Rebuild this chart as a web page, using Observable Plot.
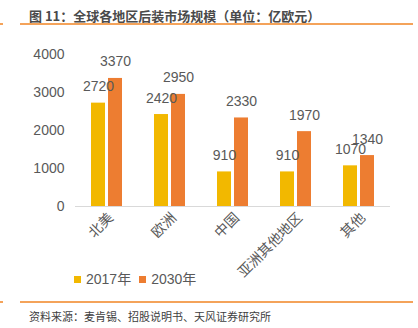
<!DOCTYPE html>
<html>
<head>
<meta charset="utf-8">
<script src="https://cdn.jsdelivr.net/npm/d3@7"></script>
<script src="https://cdn.jsdelivr.net/npm/@observablehq/plot@0.6"></script>
<style>
  html, body { margin: 0; padding: 0; background: #fff; }
  #wrap { position: relative; width: 418px; height: 328px; overflow: hidden; background: #fff;
    font-family: "Liberation Sans", "Noto Sans CJK SC", sans-serif; }
  #title { position: absolute; left: 29px; top: 6px; font-size: 13px; font-weight: bold; color: #4a4a4a;
    font-family: "Noto Sans CJK SC", sans-serif; white-space: nowrap; }
  .rule { position: absolute; left: 20px; width: 393px; height: 2px; background: #F4A35A; }
  .tick { position: absolute; left: 0; width: 3px; height: 2px; background: #F4A35A; }
  #source { position: absolute; left: 29px; top: 308px; font-size: 11px; color: #404040;
    font-family: "Noto Sans CJK SC", sans-serif; white-space: nowrap; }
  #legend { position: absolute; left: 74px; top: 268px; font-size: 14px; color: #595959; white-space: nowrap; }
  #legend span.sw { display: inline-block; width: 7px; height: 7px; margin-right: 5px; vertical-align: 1px; }
  #legend span.it { margin-right: 8px; }
  #chart { position: absolute; left: 0; top: 30px; }
</style>
</head>
<body>
<div id="wrap">
  <div id="title">图 11：全球各地区后装市场规模（单位：亿欧元）</div>
  <div class="rule" style="top:23px"></div>
  <div class="tick" style="top:23px"></div>
  <div id="chart"></div>
  <div id="legend"></div>
  <div class="rule" style="top:301px"></div>
  <div class="tick" style="top:301px"></div>
  <div id="source">资料来源：麦肯锡、招股说明书、天风证券研究所</div>
</div>
<script>
const regions = ["北美", "欧洲", "中国", "亚洲其他地区", "其他"];
const years = ["2017年", "2030年"];
const values2017 = [2720, 2420, 910, 910, 1070];
const values2030 = [3370, 2950, 2330, 1970, 1340];
const colors = ["#F2B800", "#ED7D31"];
const yTicks = [0, 1000, 2000, 3000, 4000];

const data = [];
regions.forEach((r, i) => {
  data.push({region: r, year: years[0], value: values2017[i]});
  data.push({region: r, year: years[1], value: values2030[i]});
});

const plot = Plot.plot({
  width: 418,
  height: 265,
  marginTop: 24,
  marginBottom: 89,
  marginLeft: 74,
  marginRight: 27,
  style: {fontFamily: "Liberation Sans, Noto Sans CJK SC, sans-serif", background: "transparent"},
  fx: {domain: regions, padding: 0, label: null},
  x: {domain: years, paddingInner: 0.2, paddingOuter: 0.94, axis: null},
  y: {domain: [0, 4000], label: null},
  color: {domain: years, range: colors},
  marks: [
    Plot.axisY({ticks: yTicks, tickFormat: d => String(d), tickSize: 0, tickPadding: 11, fontSize: 14, fill: "#595959", label: null}),
    Plot.axisFx({anchor: "bottom", tickSize: 0, tickRotate: -45, fontSize: 14, fill: "#595959", label: null, tickPadding: 9, dx: 4}),
    Plot.barY(data, {fx: "region", x: "year", y: "value", fill: "year"}),
    Plot.ruleY([0], {stroke: "#d9d9d9", strokeWidth: 1.2}),
    Plot.text(data, {fx: "region", x: "year", y: "value", text: d => String(d.value), lineAnchor: "bottom", dy: -12, fontSize: 14, fill: "#595959"})
  ]
});
document.getElementById("chart").appendChild(plot);

const lg = document.getElementById("legend");
years.forEach((y, i) => {
  const it = document.createElement("span");
  it.className = "it";
  it.innerHTML = `<span class="sw" style="background:${colors[i]}"></span>${y}`;
  lg.appendChild(it);
});
</script>
</body>
</html>
